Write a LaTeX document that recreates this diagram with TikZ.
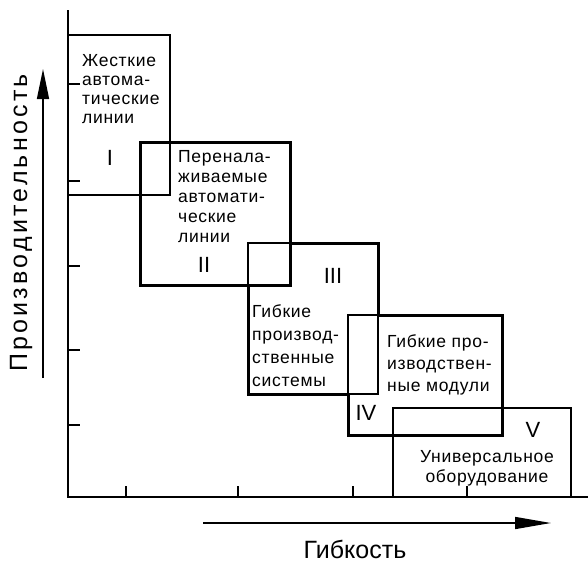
\documentclass[tikz,border=0pt]{standalone}
\usepackage{fontspec}
\setmainfont{Liberation Sans}
\newfontfamily\boxfont[LetterSpace=4]{Liberation Sans}
\newfontfamily\axisfont[LetterSpace=13]{Liberation Sans}
\usetikzlibrary{arrows.meta}

\begin{document}
\begin{tikzpicture}[x=1pt,y=-1pt,
    thinline/.style={line width=1.2pt},
    thickline/.style={line width=3pt},
    boxtext/.style={anchor=base west,align=left,inner sep=0pt},
    roman/.style={anchor=base,inner sep=0pt,font=\fontsize{22}{22}\selectfont}]
  \useasboundingbox (0,0) rectangle (588,562);
  % axes and ticks
  \draw[line width=2pt] (68,10)--(68,497)--(588,497);
  \foreach \y in {84,181,266,350,425}
    \draw[line width=1.5pt](68,\y)--(80,\y);
  \foreach \x in {126,238,353,467}
    \draw[line width=1.5pt](\x,497)--(\x,486);
  % arrows
  \coordinate (perfbot) at (43,378);
  \coordinate (perftop) at (43,69);
  \coordinate (flexleft) at (203,523);
  \coordinate (flexright) at (551,523);
  \draw[line width=1.5pt,-{Triangle[length=30pt,width=12pt]}] (perfbot)--(perftop);
  \draw[line width=1.5pt,-{Triangle[length=36pt,width=12pt]}] (flexleft)--(flexright);
  \node[rotate=90,inner sep=0pt,font=\axisfont\fontsize{25}{25}\selectfont] (perf) at (21,223) {Производительность};
  \node[anchor=base,inner sep=0pt,font=\fontsize{25}{25}\selectfont] (flex) at (355,558) {Гибкость};
  % I
  \draw[thinline] (68,35) rectangle (170,195);
  % II
  \draw[thickline] (140,142) rectangle (290,285);
  \draw[thinline] (248,285)--(248,243)--(290,243);
  % III
  \draw[thickline] (290,243)--(378,243)--(378,315);
  \draw[thickline] (248,285)--(248,394)--(348,394);
  \draw[thinline] (348,315) rectangle (378,394);
  % IV
  \draw[thickline] (378,315)--(502,315)--(502,435)--(348,435)--(348,394);
  % V
  \draw[thinline] (393,497)--(393,408)--(571,408)--(571,497);
  % texts (anchored at the baseline of the last line)
  \node[boxtext,font=\boxfont\fontsize{17.5}{19}\selectfont] (rigid) at (82,123)
    {Жесткие\\автома-\\тические\\линии};
  \node[boxtext,font=\boxfont\fontsize{17.5}{19.8}\selectfont] (reset) at (178,242)
    {Перенала-\\живаемые\\автомати-\\ческие\\линии};
  \node[boxtext,font=\boxfont\fontsize{17.5}{23}\selectfont] (fms) at (252,386)
    {Гибкие\\производ-\\ственные\\системы};
  \node[boxtext,font=\boxfont\fontsize{17.5}{22}\selectfont] (fmm) at (387,391)
    {Гибкие про-\\изводствен-\\ные модули};
  \node[anchor=base,align=center,inner sep=0pt,font=\boxfont\fontsize{17.5}{20}\selectfont] (univ) at (487,482)
    {Универсальное\\оборудование};
  \node[roman] (nI) at (110,165) {I};
  \node[roman] (nII) at (204,272) {II};
  \node[roman] (nIII) at (333,283) {III};
  \node[roman] (nIV) at (366,420) {IV};
  \node[roman] (nV) at (533,437) {V};
\end{tikzpicture}
\end{document}
